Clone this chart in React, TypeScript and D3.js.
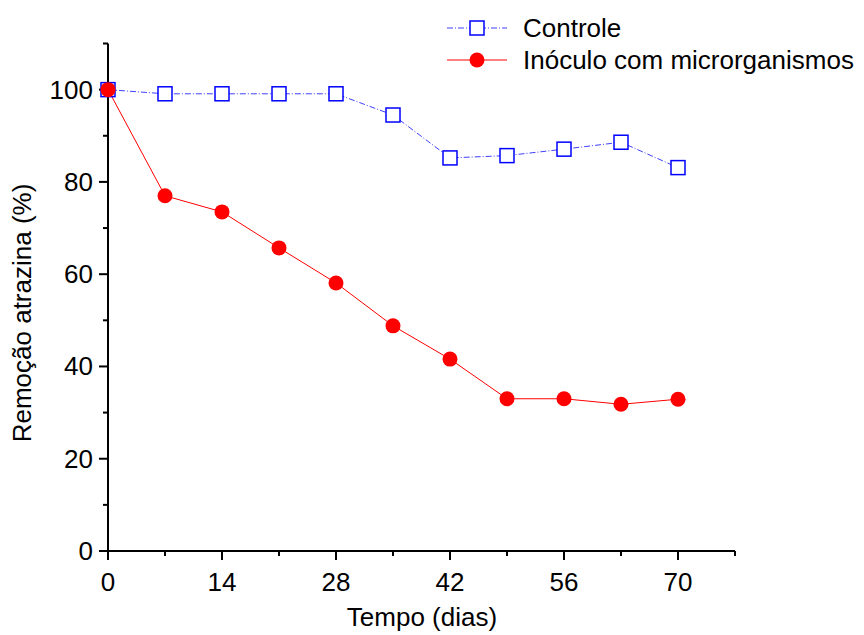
import React from "react";
import * as d3 from "d3";

const days = [0, 7, 14, 21, 28, 35, 42, 49, 56, 63, 70];
const controle = [100, 99.1, 99.1, 99.1, 99.1, 94.5, 85.2, 85.7, 87.1, 88.6, 83.1];
const inoculo = [100, 77.0, 73.5, 65.7, 58.1, 48.8, 41.6, 33.0, 33.0, 31.8, 32.9];
const xTicks = [0, 14, 28, 42, 56, 70];
const xMinor = [7, 21, 35, 49, 63, 77];
const yTicks = [0, 20, 40, 60, 80, 100];
const yMinor = [10, 30, 50, 70, 90, 110];
const seriesNames = ["Controle", "Inóculo com microrganismos"];

const W = 864, H = 635;
const x0 = 108, x1 = 735, yb = 551, yt = 43.5;
const FS = 26;
const SQ = 14;
const R = 7.5;

export default function App() {
  const x = d3.scaleLinear().domain([0, 77]).range([x0, x1]);
  const y = d3.scaleLinear().domain([0, 110]).range([yb, yt]);
  const line = d3.line<number>().x((_, i) => x(days[i])).y((d) => y(d));
  const font = "Arial, 'Liberation Sans', sans-serif";
  return (
    <svg width={W} height={H} style={{ position: "absolute", left: 0, top: 0 }} fontFamily={font}>
      {/* axes */}
      <line x1={x0} x2={x0} y1={yt} y2={yb} stroke="#000" strokeWidth={2} />
      <line x1={x0 - 1} x2={x1} y1={yb} y2={yb} stroke="#000" strokeWidth={2} />
      {xTicks.map((t) => (
        <g key={"xt" + t}>
          <line x1={x(t)} x2={x(t)} y1={yb} y2={yb + 9} stroke="#000" strokeWidth={2} />
          <text x={x(t)} y={yb + 40} textAnchor="middle" fontSize={FS}>{t}</text>
        </g>
      ))}
      {xMinor.map((t) => (
        <line key={"xm" + t} x1={x(t)} x2={x(t)} y1={yb} y2={yb + 5} stroke="#000" strokeWidth={2} />
      ))}
      {yTicks.map((t) => (
        <g key={"yt" + t}>
          <line x1={x0 - 9} x2={x0} y1={y(t)} y2={y(t)} stroke="#000" strokeWidth={2} />
          <text x={x0 - 15} y={y(t) + 9} textAnchor="end" fontSize={FS}>{t}</text>
        </g>
      ))}
      {yMinor.map((t) => (
        <line key={"ym" + t} x1={x0 - 5} x2={x0} y1={y(t)} y2={y(t)} stroke="#000" strokeWidth={2} />
      ))}
      <text x={422} y={626} textAnchor="middle" fontSize={FS}>Tempo (dias)</text>
      <text transform={`translate(31,313) rotate(-90)`} textAnchor="middle" fontSize={FS}>Remoção atrazina (%)</text>

      {/* Controle */}
      <path d={line(controle) || ""} fill="none" stroke="#4040ff" strokeWidth={1} strokeDasharray="6,2,1,2" />
      {/* Inoculo */}
      <path d={line(inoculo) || ""} fill="none" stroke="#ff0000" strokeWidth={1} />
      {controle.map((v, i) => (
        <rect key={"c" + i} x={x(days[i]) - SQ / 2} y={y(v) - SQ / 2} width={SQ} height={SQ} fill="#fff" stroke="#0000ff" strokeWidth={1.5} />
      ))}
      {inoculo.map((v, i) => (
        <circle key={"i" + i} cx={x(days[i])} cy={y(v)} r={R} fill="#ff0000" />
      ))}

      {/* legend */}
      <line x1={447} x2={507} y1={28} y2={28} stroke="#4040ff" strokeWidth={1} strokeDasharray="6,2,1,2" />
      <rect x={477 - SQ / 2} y={28 - SQ / 2} width={SQ} height={SQ} fill="#fff" stroke="#0000ff" strokeWidth={1.5} />
      <text x={523} y={37} fontSize={FS}>{seriesNames[0]}</text>
      <line x1={447} x2={507} y1={60} y2={60} stroke="#ff0000" strokeWidth={1} />
      <circle cx={477} cy={60} r={R} fill="#ff0000" />
      <text x={523} y={69} fontSize={FS}>{seriesNames[1]}</text>
    </svg>
  );
}
